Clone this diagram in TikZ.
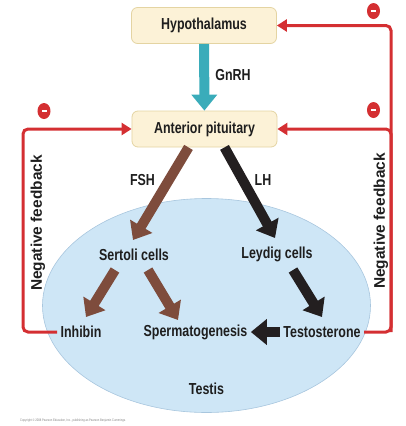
\documentclass[tikz,border=0pt]{standalone}
\usepackage{fontspec}
\setmainfont[FakeStretch=0.78]{Liberation Sans}
\newfontfamily\widefont{Liberation Sans}
\usetikzlibrary{arrows.meta,shapes.geometric}
\definecolor{fbred}{RGB}{212,47,50}
\definecolor{gnrhteal}{RGB}{58,172,186}
\definecolor{fshbrown}{RGB}{126,76,60}
\definecolor{lhblack}{RGB}{35,31,32}
\definecolor{boxfill}{RGB}{252,242,215}
\definecolor{boxline}{RGB}{228,212,162}
\definecolor{testisfill}{RGB}{206,230,246}
\definecolor{testisline}{RGB}{168,198,222}
\definecolor{txt}{RGB}{30,30,30}
\tikzset{
  gland/.style={draw=boxline, fill=boxfill, line width=0.8bp, rounded corners=6bp,
    minimum width=145bp, minimum height=36bp, font=\fontsize{16}{18}\selectfont\bfseries, text=txt},
  lbl/.style={font=\fontsize{16}{18}\selectfont\bfseries, text=txt},
  fbtext/.style={font=\widefont\fontsize{15.5}{18}\selectfont\bfseries, text=txt, rotate=90},
  minus/.style={ellipse, fill=fbred, minimum width=13bp, minimum height=16bp, inner sep=0pt,
    path picture={\fill[white]([shift={(-2.5,-1)}]path picture bounding box.center) rectangle ([shift={(2.5,1)}]path picture bounding box.center);}},
  fb/.style={draw=fbred, line width=3bp, rounded corners=5bp, -{Triangle[length=10bp,width=12bp]}},
  hormone/.style={line width=10bp, -{Triangle[length=16bp,width=25bp]}},
}
\begin{document}
\begin{tikzpicture}[x=1bp, y=-1bp]
    \useasboundingbox (0,0) rectangle (406,426);
    % testis
    \path[draw=testisline, fill=testisfill, line width=0.6bp](206.5,305.5) ellipse [x radius=164, y radius=107];
    % glands
    \node[gland](hypo) at (204,25.5){Hypothalamus};
    \node[gland](ant) at (204.5,129){Anterior pituitary};
    % cells and products
    \node[lbl](sertoli) at (134,255){Sertoli cells};
    \node[lbl](leydig) at (277,254){Leydig cells};
    \node[lbl](inhibin) at (81,332){Inhibin};
    \node[lbl](sperm) at (195.5,332){Spermatogenesis};
    \node[lbl](testo) at (322,332){Testosterone};
    \node[lbl](testis) at (206.5,389){Testis};
    % hormone labels
    \node[lbl](gnrh) at (233,75){GnRH};
    \node[lbl](fsh) at (142.5,180){FSH};
    \node[lbl](lh) at (263,180){LH};
    % hormone arrows
    \path[draw=gnrhteal, hormone](hypo)--(ant);
    \path[draw=fshbrown, hormone]([xshift=-16bp]ant.south)--([shift={(-1,-15)}]sertoli.center);
    \path[draw=lhblack, hormone]([xshift=20bp]ant.south)--([shift={(-2,-16)}]leydig.center);
    \path[draw=fshbrown, hormone]([shift={(-19,15)}]sertoli.center)--([shift={(5,-15)}]inhibin.center);
    \path[draw=fshbrown, hormone]([shift={(14,15)}]sertoli.center)--([shift={(-17.5,-12)}]sperm.center);
    \path[draw=lhblack, hormone]([shift={(16,16)}]leydig.center)--([shift={(0,-15)}]testo.center);
    \path[draw=lhblack, hormone](testo.west)--(sperm.east);
    % negative feedback
    \coordinate(rside) at (391,0);
    \coordinate(lside) at (23,0);
    \path[fb](testo.east) -| (rside |- hypo.east) -- (hypo.east);
    \path[fb](rside |- testo.east) |- (ant.east);
    \path[fb](inhibin.west) -| (lside |- ant.west) -- (ant.west);
    \node[fbtext](fbleft) at (38,223){Negative feedback};
    \node[fbtext](fbright) at (381,221){Negative feedback};
    \node[minus](m1) at (373.5,11){};
    \node[minus](m2) at (373.5,110){};
    \node[minus](m3) at (44,111){};
    % copyright
    \node[anchor=west, text=gray, font=\fontsize{3.5}{4}\selectfont, inner sep=0pt](copy) at (20,421){Copyright © 2008 Pearson Education, Inc., publishing as Pearson Benjamin Cummings.};
\end{tikzpicture}
\end{document}
